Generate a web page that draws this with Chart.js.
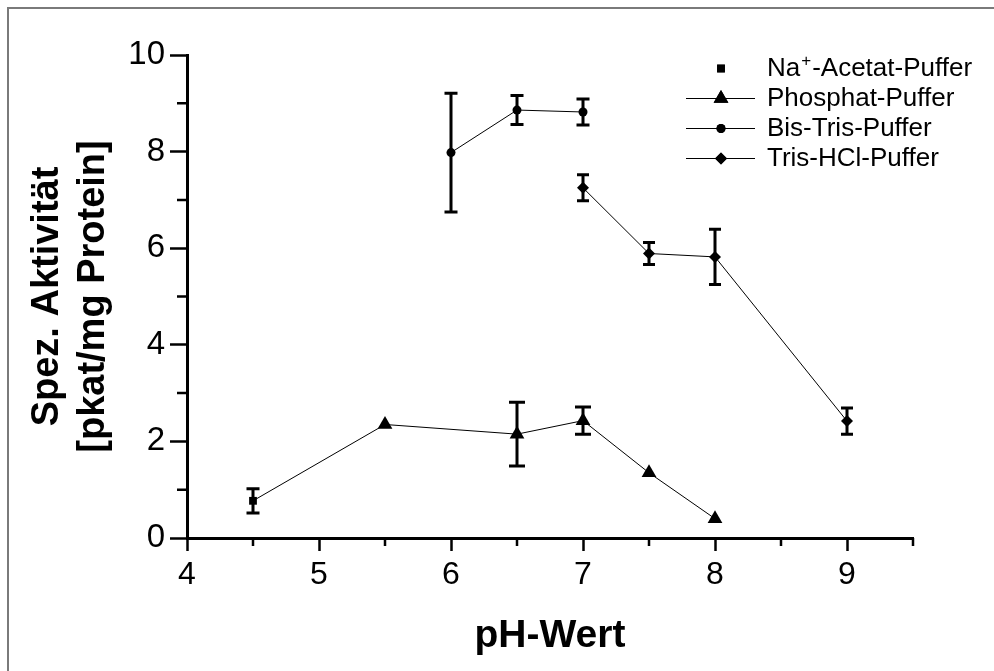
<!DOCTYPE html>
<html>
<head>
<meta charset="utf-8">
<script src="https://cdn.jsdelivr.net/npm/chart.js@4/dist/chart.umd.min.js"></script>
<style>
  html, body { margin: 0; padding: 0; background: #fff; }
  #c { display: block; }
</style>
</head>
<body>
<canvas id="c" width="994" height="671"></canvas>
<script>
// pH values, activity (pkat/mg protein) and error (+/-) per buffer
const acetatPh = [4.5];
const acetatAct = [0.77];
const acetatErr = [0.25];

// the phosphate curve is drawn from the acetate point on (first point has no marker)
const phosphatPh = [4.5, 5.5, 6.5, 7, 7.5, 8];
const phosphatAct = [0.77, 2.35, 2.15, 2.43, 1.35, 0.4];
const phosphatErr = [0, 0, 0.66, 0.28, 0, 0];

const bisTrisPh = [6, 6.5, 7];
const bisTrisAct = [7.98, 8.86, 8.82];
const bisTrisErr = [1.23, 0.3, 0.27];

const trisPh = [7, 7.5, 8, 9];
const trisAct = [7.25, 5.89, 5.82, 2.42];
const trisErr = [0.27, 0.23, 0.57, 0.27];

const xTicksMinor = [4.5, 5.5, 6.5, 7.5, 8.5, 9.5];
const yTicksMinor = [1, 3, 5, 7, 9];

const FONT = "'Liberation Sans', Arial, Helvetica, sans-serif";

const toPoints = (xs, ys) => xs.map((x, i) => ({x: x, y: ys[i]}));

const errorBars = {
  id: 'errorBars',
  afterDatasetsDraw(chart) {
    const {ctx, scales: {x, y}} = chart;
    ctx.save();
    ctx.strokeStyle = '#000';
    ctx.lineWidth = 3;
    ctx.lineCap = 'butt';
    chart.data.datasets.forEach(ds => {
      if (!ds.errors) return;
      const w = ds.capWidth / 2;
      ds.data.forEach((p, i) => {
        const e = ds.errors[i];
        if (!e) return;
        const px = x.getPixelForValue(p.x);
        const top = y.getPixelForValue(p.y + e);
        const bot = y.getPixelForValue(p.y - e);
        ctx.beginPath();
        ctx.moveTo(px, top - 1.5);
        ctx.lineTo(px, bot + 1.5);
        ctx.moveTo(px - w, top);
        ctx.lineTo(px + w, top);
        ctx.moveTo(px - w, bot);
        ctx.lineTo(px + w, bot);
        ctx.stroke();
      });
    });
    ctx.restore();
  }
};

const frameAndMinor = {
  id: 'frameAndMinor',
  beforeDraw(chart) {
    const ctx = chart.ctx;
    ctx.save();
    ctx.strokeStyle = '#7a7a7a';
    ctx.lineWidth = 2;
    ctx.beginPath();
    ctx.moveTo(8, 671);
    ctx.lineTo(8, 8);
    ctx.lineTo(994, 8);
    ctx.stroke();
    ctx.restore();
  },
  afterDraw(chart) {
    const {ctx, scales: {x, y}} = chart;
    ctx.save();
    ctx.strokeStyle = '#000';
    ctx.lineWidth = 2.5;
    ctx.beginPath();
    xTicksMinor.forEach(v => {
      const px = x.getPixelForValue(v);
      ctx.moveTo(px, x.top);
      ctx.lineTo(px, x.top + 8);
    });
    yTicksMinor.forEach(v => {
      const py = y.getPixelForValue(v);
      ctx.moveTo(y.right, py);
      ctx.lineTo(y.right - 10, py);
    });
    ctx.stroke();
    ctx.restore();
  }
};

const legendBox = {
  id: 'legendBox',
  afterDraw(chart) {
    const ctx = chart.ctx;
    const x0 = 686, xm = 721, x1 = 755, tx = 767;
    ctx.save();
    chart.data.datasets.forEach((ds, i) => {
      const ly = 68.5 + i * 30;
      if (ds.showLine) {
        ctx.strokeStyle = '#000';
        ctx.lineWidth = 1;
        ctx.beginPath();
        ctx.moveTo(x0, ly);
        ctx.lineTo(x1, ly);
        ctx.stroke();
      }
      ctx.fillStyle = '#000';
      Chart.helpers.drawPoint(ctx, {
        pointStyle: ds.pointStyle,
        radius: ds.legendRadius,
        borderWidth: 0,
        rotation: 0
      }, xm, ly);
      ctx.fill();
      ctx.fillStyle = '#000';
      ctx.textBaseline = 'middle';
      ctx.textAlign = 'left';
      ctx.font = '26px ' + FONT;
      if (ds.label.indexOf('Na+') === 0) {
        ctx.fillText('Na', tx, ly);
        let w = ctx.measureText('Na').width;
        ctx.font = '17px ' + FONT;
        ctx.fillText('+', tx + w + 1, ly - 7);
        w += ctx.measureText('+').width + 2;
        ctx.font = '26px ' + FONT;
        ctx.fillText(ds.label.slice(3), tx + w, ly);
      } else {
        ctx.fillText(ds.label, tx, ly);
      }
    });
    ctx.restore();
  }
};

new Chart(document.getElementById('c'), {
  type: 'scatter',
  data: {
    datasets: [
      {
        label: 'Na+-Acetat-Puffer',
        data: toPoints(acetatPh, acetatAct),
        errors: acetatErr,
        capWidth: 13,
        showLine: false,
        pointStyle: 'rect',
        pointRadius: 5.5,
        legendRadius: 5.5,
        pointBackgroundColor: '#000',
        pointBorderWidth: 0
      },
      {
        label: 'Phosphat-Puffer',
        data: toPoints(phosphatPh, phosphatAct),
        errors: phosphatErr,
        capWidth: 16,
        showLine: true,
        borderColor: '#000',
        borderWidth: 1,
        pointStyle: 'triangle',
        pointRadius: ctx => ctx.dataIndex === 0 ? 0 : 8.5,
        legendRadius: 8.5,
        pointBackgroundColor: '#000',
        pointBorderWidth: 0
      },
      {
        label: 'Bis-Tris-Puffer',
        data: toPoints(bisTrisPh, bisTrisAct),
        errors: bisTrisErr,
        capWidth: 13,
        showLine: true,
        borderColor: '#000',
        borderWidth: 1,
        pointStyle: 'circle',
        pointRadius: 4.5,
        legendRadius: 4.5,
        pointBackgroundColor: '#000',
        pointBorderWidth: 0
      },
      {
        label: 'Tris-HCl-Puffer',
        data: toPoints(trisPh, trisAct),
        errors: trisErr,
        capWidth: 12,
        showLine: true,
        borderColor: '#000',
        borderWidth: 1,
        pointStyle: 'rectRot',
        pointRadius: 6,
        legendRadius: 6,
        pointBackgroundColor: '#000',
        pointBorderWidth: 0
      }
    ]
  },
  options: {
    responsive: false,
    animation: false,
    events: [],
    layout: { padding: { left: 0, top: 55, right: 81, bottom: 0 } },
    plugins: {
      legend: { display: false },
      tooltip: { enabled: false }
    },
    scales: {
      x: {
        type: 'linear',
        min: 4,
        max: 9.5,
        afterFit: s => { s.height = 133; },
        border: { display: true, color: '#000', width: 3 },
        grid: { drawOnChartArea: false, drawTicks: true, tickLength: 13, tickWidth: 2.5, tickColor: '#000' },
        ticks: {
          stepSize: 1,
          includeBounds: false,
          color: '#000',
          padding: 5,
          font: { family: FONT, size: 32 }
        },
        title: {
          display: true,
          text: 'pH-Wert',
          color: '#000',
          font: { family: FONT, size: 39, weight: 'bold', lineHeight: 1.2 },
          padding: { top: 0, bottom: 11 }
        }
      },
      y: {
        type: 'linear',
        min: 0,
        max: 10,
        afterFit: s => { s.width = 187; },
        border: { display: true, color: '#000', width: 3 },
        grid: { drawOnChartArea: false, drawTicks: true, tickLength: 17, tickWidth: 2.5, tickColor: '#000' },
        ticks: {
          stepSize: 2,
          color: '#000',
          padding: 5,
          font: { family: FONT, size: 33 }
        },
        title: {
          display: true,
          text: ['Spez. Aktivität', '[pkat/mg Protein]'],
          color: '#000',
          font: { family: FONT, size: 38, weight: 'bold', lineHeight: 1.22 },
          padding: { top: 24, bottom: 0 }
        }
      }
    }
  },
  plugins: [frameAndMinor, errorBars, legendBox]
});
</script>
</body>
</html>
